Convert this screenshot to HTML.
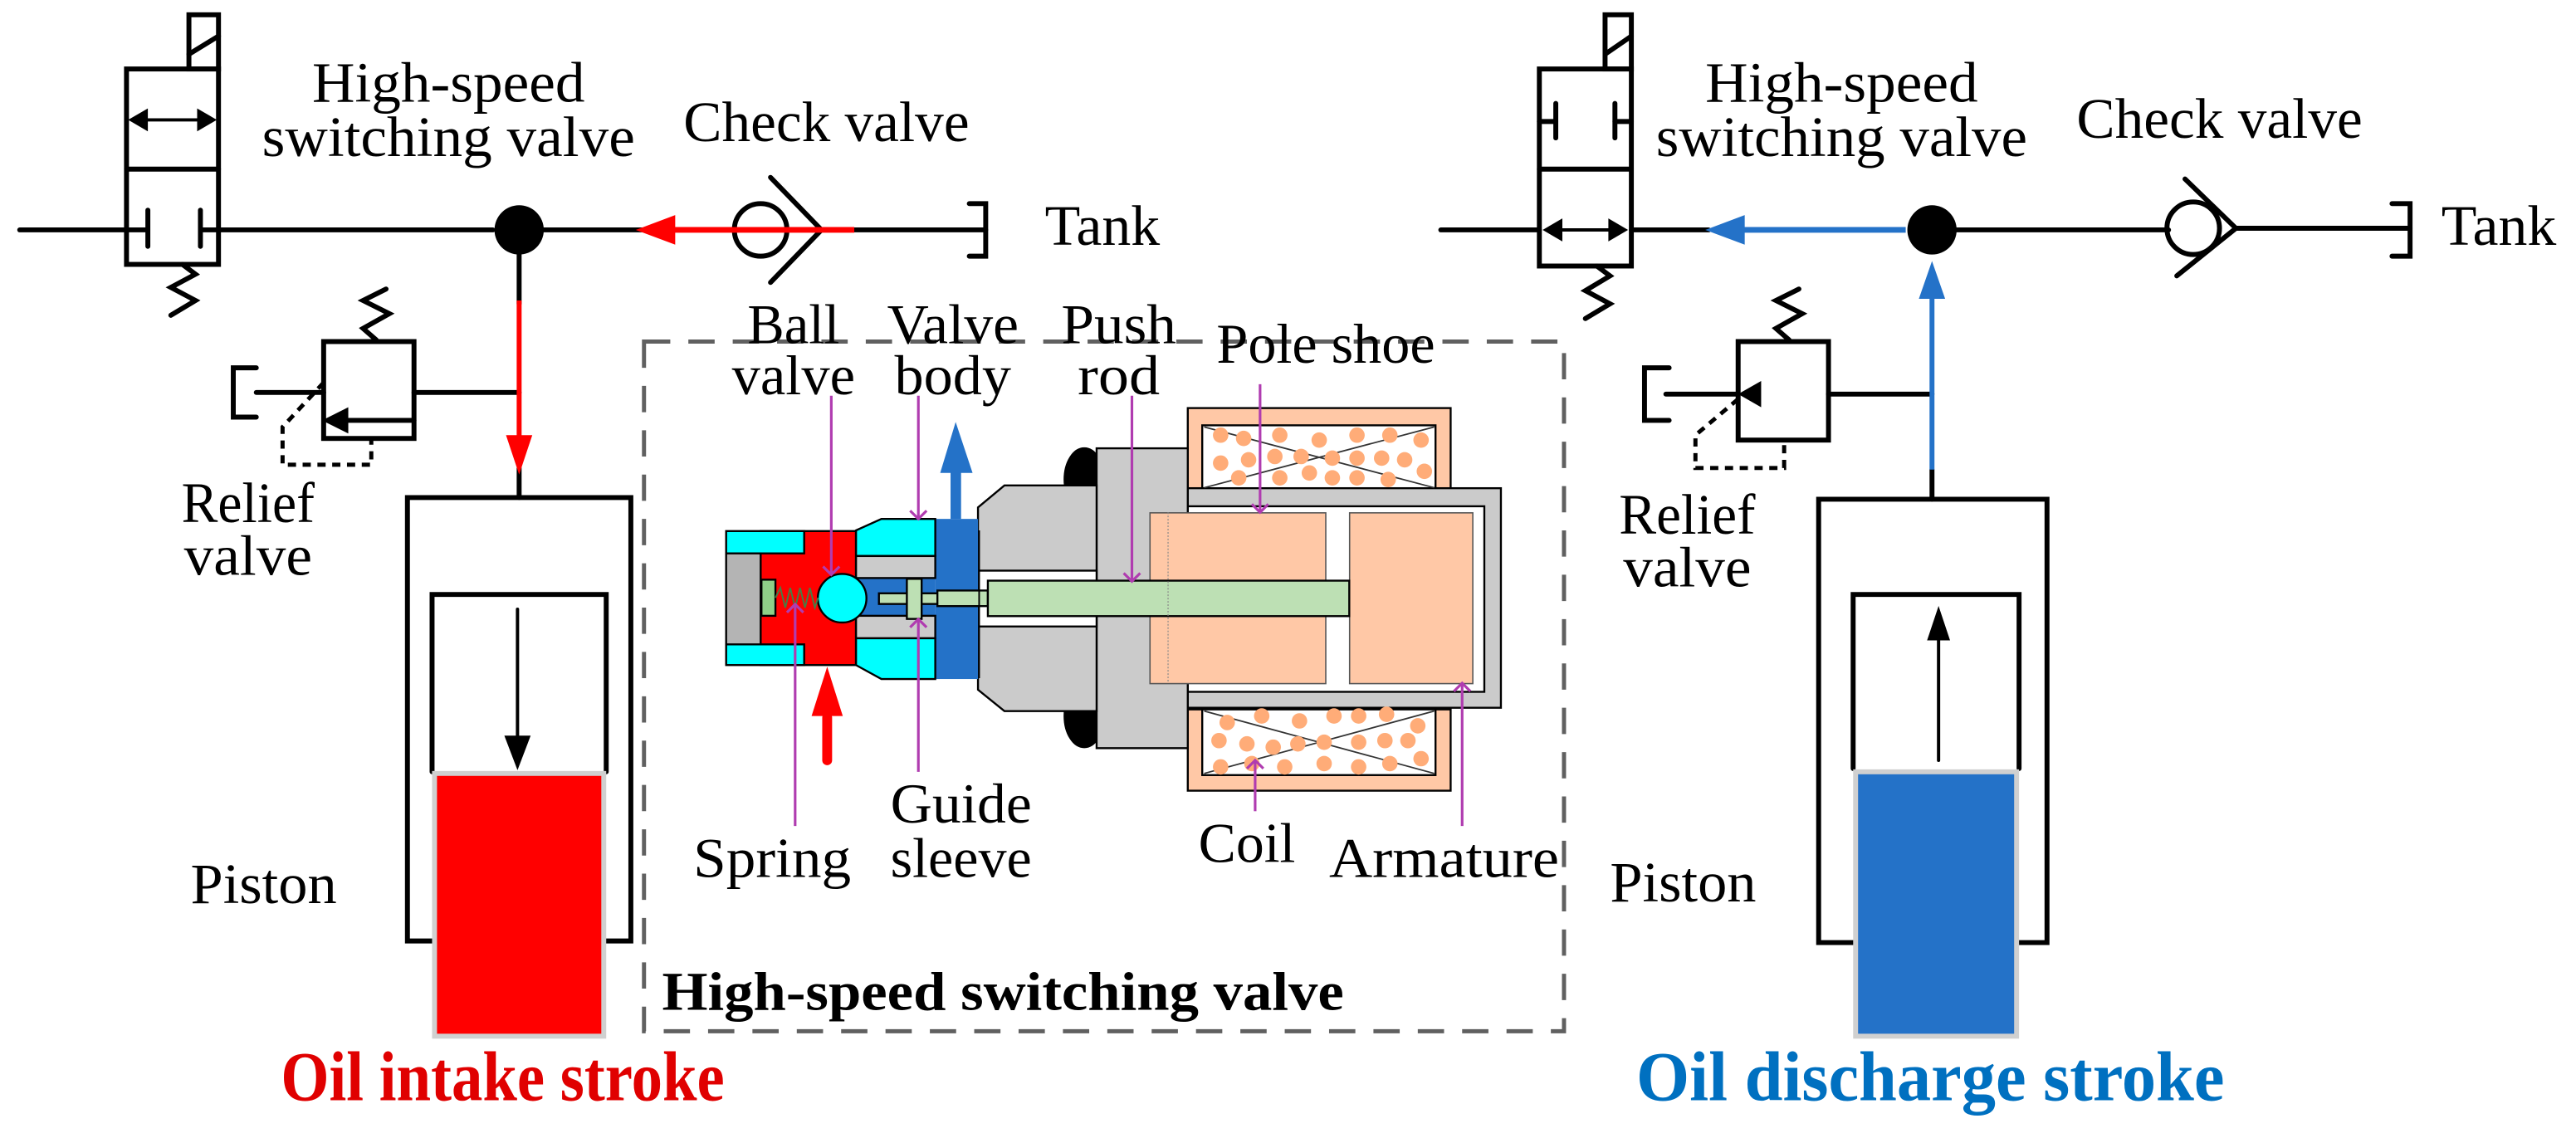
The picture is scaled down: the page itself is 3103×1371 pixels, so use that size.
<!DOCTYPE html>
<html><head><meta charset="utf-8"><style>
html,body{margin:0;padding:0;background:#fff;}
svg{display:block;}
svg text{font-family:"Liberation Serif","DejaVu Serif",serif;}
</style></head><body>
<svg width="3103" height="1371" viewBox="0 0 1568 693" preserveAspectRatio="none" xmlns="http://www.w3.org/2000/svg" font-family="'Liberation Serif', 'DejaVu Serif', serif">
<rect width="1568" height="693" fill="#fff"/>

<g stroke="#000" stroke-width="3" fill="none" stroke-linecap="round">
  <rect x="115" y="9" width="18" height="33" stroke-width="3"/>
  <line x1="115" y1="33" x2="133" y2="22"/>
  <rect x="77" y="42" width="56" height="119"/>
  <line x1="77" y1="103" x2="133" y2="103"/>
  <polyline points="111,161 119,167 104,175 119,183 104,192"/>
  <line x1="90" y1="128" x2="90" y2="150"/>
  <line x1="122" y1="128" x2="122" y2="150"/>
  <line x1="12" y1="140" x2="90" y2="140"/>
  <line x1="122" y1="140" x2="300" y2="140"/>
  <line x1="316" y1="140" x2="395" y2="140"/>
  <line x1="86" y1="73" x2="124" y2="73" stroke-width="2"/>
  <circle cx="463" cy="140" r="16"/>
  <polyline points="469,108 500,140 469,172"/>
  <line x1="520" y1="140" x2="600" y2="140"/>
  <polyline points="590,124 600,124 600,156 590,156"/>
  <line x1="316" y1="150" x2="316" y2="185"/>
  <line x1="316" y1="285" x2="316" y2="303"/>
  <rect x="197" y="208" width="55" height="59"/>
  <polyline points="229,207 221,200 237,191 221,183 235,176"/>
  <line x1="252" y1="239" x2="316" y2="239"/>
  <line x1="156" y1="239" x2="197" y2="239"/>
  <polyline points="156,224 142,224 142,254 156,254"/>
  <line x1="252" y1="256" x2="210" y2="256"/>
  <polyline points="263,573 248,573 248,303 384,303 384,573 369,573"/>
  <polyline points="263,470 263,362 369,362 369,470"/>
  <line x1="315" y1="371" x2="315" y2="450" stroke-width="2"/>
</g>
<polygon points="78,73 90,66 90,80" fill="#000"/>
<polygon points="132,73 120,66 120,80" fill="#000"/>
<polygon points="196,256 212,248 212,264" fill="#000"/>
<polyline points="197,233 172,260 172,283 226,283 226,268" fill="none" stroke="#000" stroke-width="2.5" stroke-dasharray="5,4"/>
<circle cx="316" cy="140" r="15" fill="#000"/>
<polygon points="307,448 323,448 315,469" fill="#000"/>
<line x1="408" y1="140" x2="520" y2="140" stroke="#f00" stroke-width="3.5"/>
<polygon points="387,140 411,131 411,149" fill="#f00"/>
<line x1="316" y1="183" x2="316" y2="268" stroke="#f00" stroke-width="3"/>
<polygon points="308,265 324,265 316,289" fill="#f00"/>
<rect x="264.5" y="471" width="103" height="160" fill="#f00" stroke="#d0d0d0" stroke-width="3"/>

<g font-size="35">
<text x="273" y="62" text-anchor="middle" textLength="166" lengthAdjust="spacingAndGlyphs">High-speed</text>
<text x="273" y="95" text-anchor="middle" textLength="227" lengthAdjust="spacingAndGlyphs">switching valve</text>
<text x="416" y="86" textLength="174" lengthAdjust="spacingAndGlyphs">Check valve</text>
<text x="636" y="149" textLength="70" lengthAdjust="spacingAndGlyphs">Tank</text>
<text x="151" y="318" text-anchor="middle" textLength="81" lengthAdjust="spacingAndGlyphs">Relief</text>
<text x="151" y="350" text-anchor="middle" textLength="78" lengthAdjust="spacingAndGlyphs">valve</text>
<text x="116" y="550" textLength="89" lengthAdjust="spacingAndGlyphs">Piston</text>
</g>
<text x="171" y="670" font-size="43" font-weight="bold" fill="#e00000" textLength="270" lengthAdjust="spacingAndGlyphs">Oil intake stroke</text>

<g stroke="#000" stroke-width="3" fill="none" stroke-linecap="round">
  <rect x="977" y="9" width="16" height="33"/>
  <line x1="977" y1="33" x2="993" y2="22"/>
  <rect x="937" y="42" width="56" height="120"/>
  <line x1="937" y1="103" x2="993" y2="103"/>
  <polyline points="972,162 980,168 965,177 980,185 965,194"/>
  <line x1="947" y1="63" x2="947" y2="84"/>
  <line x1="983" y1="63" x2="983" y2="84"/>
  <line x1="937" y1="74" x2="947" y2="74"/>
  <line x1="983" y1="74" x2="993" y2="74"/>
  <line x1="947" y1="140" x2="983" y2="140" stroke-width="2"/>
  <line x1="877" y1="140" x2="937" y2="140"/>
  <line x1="993" y1="140" x2="1040" y2="140"/>
  <line x1="1180" y1="140" x2="1320" y2="140"/>
  <circle cx="1335" cy="139" r="16"/>
  <polyline points="1330,109 1361,139 1325,168"/>
  <line x1="1361" y1="139" x2="1467" y2="139"/>
  <polyline points="1456,124 1467,124 1467,156 1456,156"/>
  <line x1="1176" y1="286" x2="1176" y2="304"/>
  <rect x="1058" y="208" width="55" height="60"/>
  <polyline points="1089,207 1081,200 1097,191 1081,183 1095,176"/>
  <line x1="1113" y1="240" x2="1176" y2="240"/>
  <line x1="1014" y1="240" x2="1058" y2="240"/>
  <polyline points="1016,224 1001,224 1001,256 1016,256"/>
  <polyline points="1128,574 1107,574 1107,304 1246,304 1246,574 1229,574"/>
  <polyline points="1128,468 1128,362 1229,362 1229,468"/>
  <line x1="1180" y1="463" x2="1180" y2="388" stroke-width="2"/>
</g>
<polygon points="1058,240 1072,232 1072,248" fill="#000"/>
<polygon points="1180,369 1173,390 1187,390" fill="#000"/>
<polyline points="1058,243 1032,265 1032,285 1086,285 1086,270" fill="none" stroke="#000" stroke-width="2.5" stroke-dasharray="5,4"/>
<polygon points="939,140 951,133 951,147" fill="#000"/>
<polygon points="991,140 979,133 979,147" fill="#000"/>
<circle cx="1176" cy="140" r="15" fill="#000"/>
<line x1="1058" y1="140" x2="1160" y2="140" stroke="#2472c8" stroke-width="3.5"/>
<polygon points="1038,140 1062,131 1062,149" fill="#2472c8"/>
<line x1="1176" y1="178" x2="1176" y2="286" stroke="#2472c8" stroke-width="3"/>
<polygon points="1176,159 1168,182 1184,182" fill="#2472c8"/>
<rect x="1129.5" y="470" width="98" height="161" fill="#2472c8" stroke="#d0d0d0" stroke-width="3"/>

<g font-size="35">
<text x="1121" y="62" text-anchor="middle" textLength="166" lengthAdjust="spacingAndGlyphs">High-speed</text>
<text x="1121" y="95" text-anchor="middle" textLength="226" lengthAdjust="spacingAndGlyphs">switching valve</text>
<text x="1264" y="84" textLength="174" lengthAdjust="spacingAndGlyphs">Check valve</text>
<text x="1486" y="149" textLength="70" lengthAdjust="spacingAndGlyphs">Tank</text>
<text x="1027" y="325" text-anchor="middle" textLength="83" lengthAdjust="spacingAndGlyphs">Relief</text>
<text x="1027" y="357" text-anchor="middle" textLength="78" lengthAdjust="spacingAndGlyphs">valve</text>
<text x="980" y="549" textLength="89" lengthAdjust="spacingAndGlyphs">Piston</text>
</g>
<text x="996" y="670" font-size="43" font-weight="bold" fill="#0070c0" textLength="358" lengthAdjust="spacingAndGlyphs">Oil discharge stroke</text>

<rect x="392" y="208" width="560" height="420" fill="none" stroke="#606060" stroke-width="2.5" stroke-dasharray="16,11"/>
<text x="403" y="615" font-size="33" font-weight="bold" textLength="415" lengthAdjust="spacingAndGlyphs">High-speed switching valve</text>

<g stroke="#000" stroke-width="1.2">
  <ellipse cx="660" cy="292" rx="12" ry="19" fill="#000"/>
  <ellipse cx="660" cy="436" rx="12" ry="19" fill="#000"/>
  <rect x="723" y="248.5" width="160" height="49" fill="#ffc8a6"/>
  <rect x="731.8" y="259" width="142" height="39" fill="#fff"/>
  <rect x="723" y="432" width="160" height="49.5" fill="#ffc8a6"/>
  <rect x="731.8" y="432" width="142" height="40" fill="#fff"/>
  <rect x="723" y="297.3" width="190.6" height="133.7" fill="#cbcbcb"/>
  <rect x="723" y="308.3" width="180.5" height="113" fill="#fff"/>
  <rect x="667.5" y="273" width="55.5" height="182.6" fill="#cbcbcb"/>
  <polygon points="595.3,309 611.4,295.6 667.5,295.6 667.5,433 611.4,433 595.3,420" fill="#cbcbcb"/>
  <rect x="595.3" y="347.5" width="72.2" height="34" fill="#fff"/>
  <rect x="700" y="312.3" width="107" height="104" fill="#ffc8a6" stroke="#555" stroke-width="0.8"/>
  <rect x="821.5" y="312.3" width="75" height="104" fill="#ffc8a6" stroke="#555" stroke-width="0.8"/>
  <rect x="569.3" y="316" width="26" height="97.5" fill="#2472c8" stroke="none"/>
  <rect x="521" y="352" width="48.3" height="23" fill="#2472c8" stroke="none"/>
  <polygon points="521,323 536.5,316 569.3,316 569.3,338.6 521,338.6" fill="#00ffff"/>
  <rect x="521" y="338.6" width="48.3" height="13.4" fill="#cbcbcb"/>
  <rect x="521" y="375" width="48.3" height="13.7" fill="#cbcbcb"/>
  <polygon points="521,388.7 569.3,388.7 569.3,413.5 536.5,413.5 521,405" fill="#00ffff"/>
  <rect x="463" y="323.4" width="58" height="81.6" fill="#f00"/>
  <rect x="442" y="323.4" width="47.5" height="13.6" fill="#00ffff"/>
  <rect x="442" y="392.4" width="47.5" height="12.6" fill="#00ffff"/>
  <rect x="442" y="337" width="21" height="55.4" fill="#b4b4b4"/>
  <rect x="463.5" y="353" width="8.5" height="22" fill="#8fcf88"/>
  <rect x="535" y="361.3" width="35.6" height="6.5" fill="#bde0b4"/>
  <rect x="552" y="352.5" width="9" height="24.4" fill="#bde0b4"/>
  <rect x="570.6" y="359.6" width="30.7" height="9.5" fill="#bde0b4"/>
  <rect x="601.3" y="353.6" width="220" height="21.6" fill="#bde0b4"/>
  <circle cx="512.6" cy="364.3" r="14.8" fill="#00ffff"/>
</g>
<polyline points="472,364 475,358 478,370 481,358 484,370 487,358 490,370 493,358 496,370 498,364" fill="none" stroke="#4a7a44" stroke-width="1"/>
<line x1="596" y1="323" x2="596" y2="413" stroke="#000" stroke-width="1"/>
<line x1="711" y1="312" x2="711" y2="416" stroke="#888" stroke-width="0.6" stroke-dasharray="1,1"/>
<g stroke="#333" stroke-width="0.9">
  <line x1="733" y1="260" x2="873" y2="297"/><line x1="733" y1="297" x2="873" y2="260"/>
  <line x1="733" y1="433" x2="873" y2="471"/><line x1="733" y1="471" x2="873" y2="433"/>
</g>
<g fill="#ffac78">
  <circle cx="743" cy="265" r="4.7"/><circle cx="757" cy="267" r="4.7"/><circle cx="779" cy="265" r="4.7"/><circle cx="803" cy="268" r="4.7"/><circle cx="826" cy="265" r="4.7"/><circle cx="846" cy="265" r="4.7"/><circle cx="865" cy="268" r="4.7"/>
  <circle cx="743" cy="282" r="4.7"/><circle cx="760" cy="280" r="4.7"/><circle cx="776" cy="278" r="4.7"/><circle cx="792" cy="278" r="4.7"/><circle cx="811" cy="279" r="4.7"/><circle cx="826" cy="279" r="4.7"/><circle cx="841" cy="279" r="4.7"/><circle cx="855" cy="280" r="4.7"/>
  <circle cx="754" cy="291" r="4.7"/><circle cx="779" cy="291" r="4.7"/><circle cx="797" cy="288" r="4.7"/><circle cx="811" cy="291" r="4.7"/><circle cx="826" cy="291" r="4.7"/><circle cx="845" cy="292" r="4.7"/><circle cx="867" cy="287" r="4.7"/>
  <circle cx="747" cy="440" r="4.7"/><circle cx="768" cy="436" r="4.7"/><circle cx="791" cy="439" r="4.7"/><circle cx="812" cy="436" r="4.7"/><circle cx="827" cy="436" r="4.7"/><circle cx="844" cy="435" r="4.7"/><circle cx="863" cy="442" r="4.7"/>
  <circle cx="742" cy="451" r="4.7"/><circle cx="759" cy="453" r="4.7"/><circle cx="775" cy="455" r="4.7"/><circle cx="790" cy="453" r="4.7"/><circle cx="806" cy="452" r="4.7"/><circle cx="827" cy="452" r="4.7"/><circle cx="843" cy="451" r="4.7"/><circle cx="857" cy="451" r="4.7"/>
  <circle cx="743" cy="467" r="4.7"/><circle cx="762" cy="465" r="4.7"/><circle cx="782" cy="467" r="4.7"/><circle cx="806" cy="465" r="4.7"/><circle cx="827" cy="467" r="4.7"/><circle cx="846" cy="465" r="4.7"/><circle cx="865" cy="462" r="4.7"/>
</g>
<rect x="578.6" y="287" width="6.4" height="29" fill="#2472c8"/>
<polygon points="581.7,257 572.3,288 592,288" fill="#2472c8"/>
<rect x="500.5" y="434" width="6" height="32" rx="3" fill="#f00"/>
<polygon points="503.5,406 494,436 513,436" fill="#f00"/>

<g stroke="#b03cb0" stroke-width="1.6" fill="none">
  <line x1="506" y1="241" x2="506" y2="350"/><polyline points="501,345 506,350 511,345"/>
  <line x1="559" y1="241" x2="559" y2="316"/><polyline points="554,311 559,316 564,311"/>
  <line x1="689" y1="241" x2="689" y2="354"/><polyline points="684,349 689,354 694,349"/>
  <line x1="767" y1="234" x2="767" y2="312"/><polyline points="762,307 767,312 772,307"/>
  <line x1="484" y1="368" x2="484" y2="503"/><polyline points="479,373 484,368 489,373"/>
  <line x1="559" y1="377" x2="559" y2="470"/><polyline points="554,382 559,377 564,382"/>
  <line x1="764" y1="463" x2="764" y2="494"/><polyline points="759,468 764,463 769,468"/>
  <line x1="890" y1="416" x2="890" y2="503"/><polyline points="885,421 890,416 895,421"/>
</g>

<g font-size="34">
<text x="483" y="209" text-anchor="middle" textLength="56" lengthAdjust="spacingAndGlyphs">Ball</text>
<text x="483" y="240" text-anchor="middle" textLength="75" lengthAdjust="spacingAndGlyphs">valve</text>
<text x="580" y="209" text-anchor="middle" textLength="80" lengthAdjust="spacingAndGlyphs">Valve</text>
<text x="580" y="240" text-anchor="middle" textLength="71" lengthAdjust="spacingAndGlyphs">body</text>
<text x="681" y="209" text-anchor="middle" textLength="70" lengthAdjust="spacingAndGlyphs">Push</text>
<text x="681" y="240" text-anchor="middle" textLength="50" lengthAdjust="spacingAndGlyphs">rod</text>
<text x="807" y="221" text-anchor="middle" textLength="133" lengthAdjust="spacingAndGlyphs">Pole shoe</text>
<text x="470" y="534" text-anchor="middle" textLength="96" lengthAdjust="spacingAndGlyphs">Spring</text>
<text x="585" y="501" text-anchor="middle" textLength="86" lengthAdjust="spacingAndGlyphs">Guide</text>
<text x="585" y="534" text-anchor="middle" textLength="86" lengthAdjust="spacingAndGlyphs">sleeve</text>
<text x="759" y="525" text-anchor="middle" textLength="59" lengthAdjust="spacingAndGlyphs">Coil</text>
<text x="879" y="534" text-anchor="middle" textLength="140" lengthAdjust="spacingAndGlyphs">Armature</text>
</g>
</svg>
</body></html>
